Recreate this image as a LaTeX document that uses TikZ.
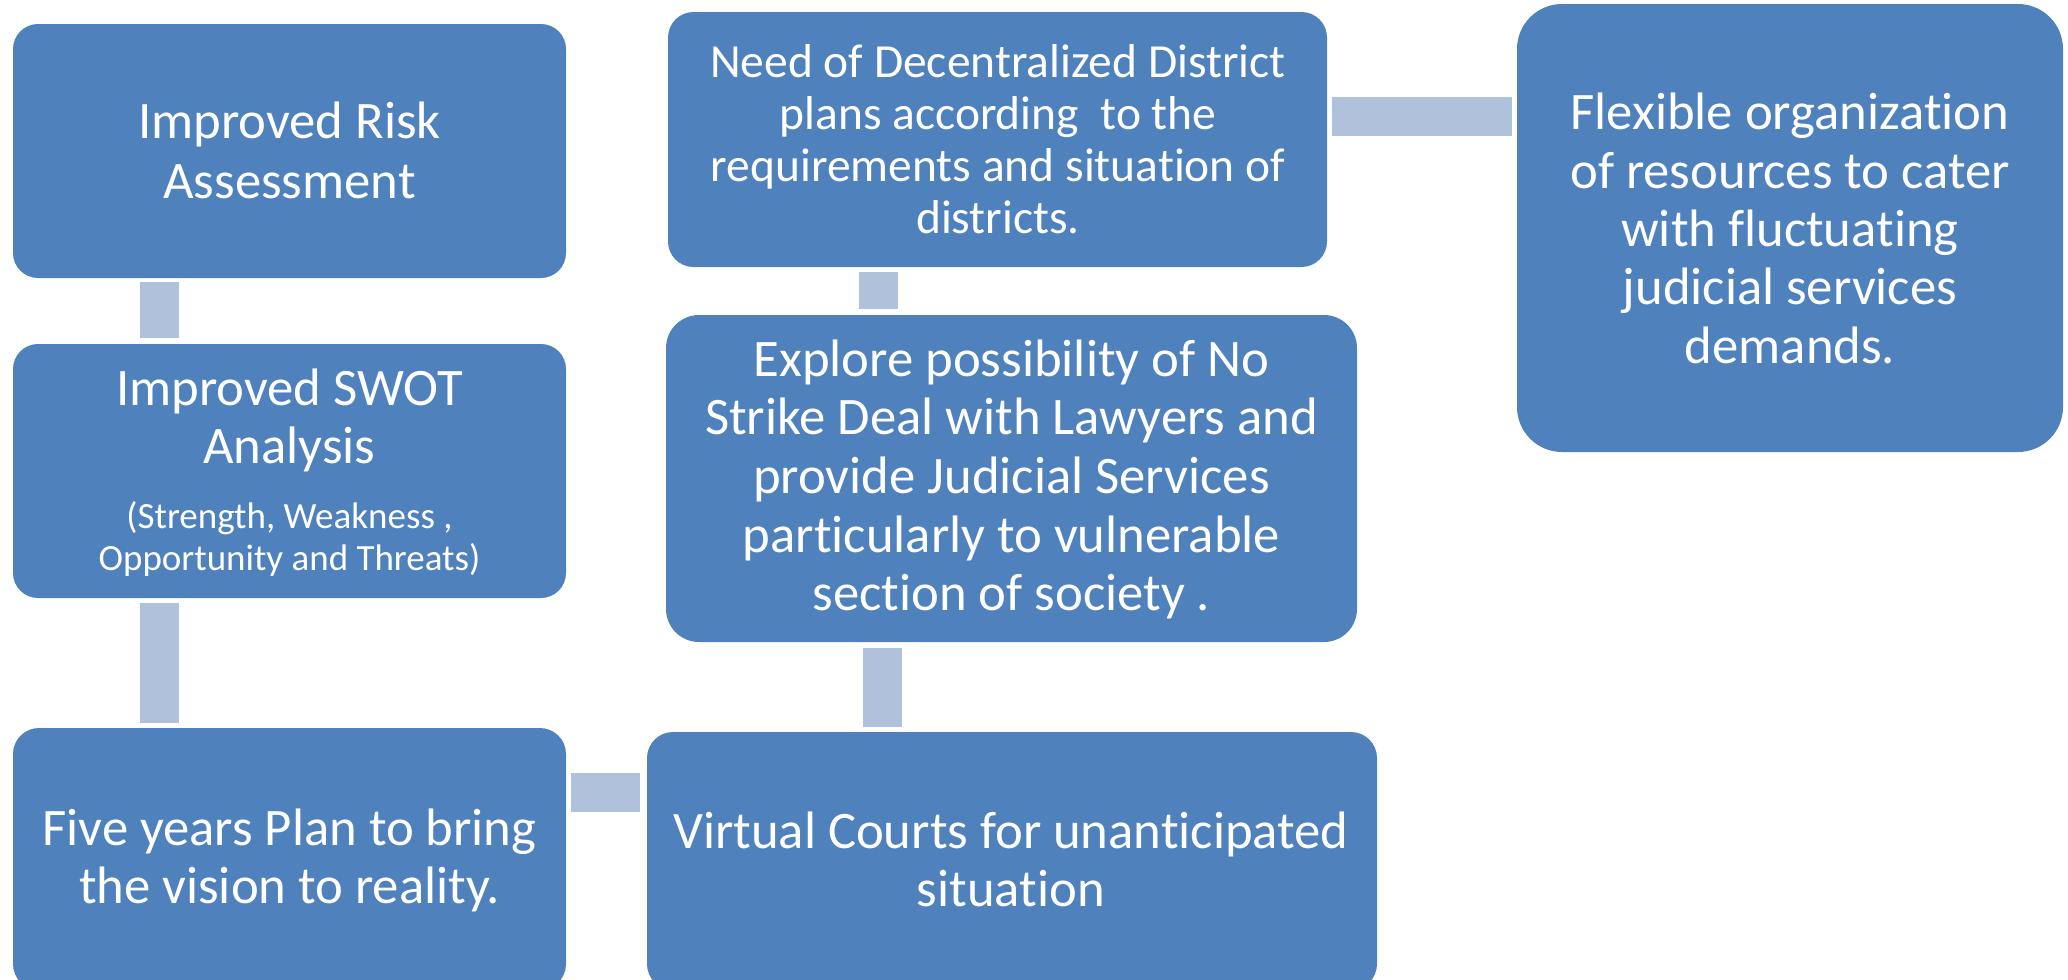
\documentclass[tikz,border=0pt]{standalone}
\usepackage{fontspec}
\setmainfont{Carlito}[Ligatures={NoCommon,NoContextual}]
\usetikzlibrary{calc}
\definecolor{boxblue}{RGB}{79,129,189}
\definecolor{connblue}{RGB}{176,193,220}
\begin{document}
\begin{tikzpicture}[x=0.5pt,y=-0.5pt,
  boxshape/.style={rectangle, fill=boxblue, draw=none, inner sep=0pt, outer sep=0pt},
  boxtext/.style={text=white, align=center, inner sep=0pt, outer sep=0pt},
  bigtext/.style={font=\fontsize{26.35pt}{#1}\selectfont},
  conn/.style={draw=connblue, line width=19.5pt}]
\useasboundingbox (0,0) rectangle (2068,980);
\clip (0,0) rectangle (2068,980);
% boxes
\node[boxshape, minimum width=276.5pt, minimum height=127pt, rounded corners=12.5pt] (b1) at (289.5,151) {};
\node[boxshape, minimum width=276.5pt, minimum height=127pt, rounded corners=12.5pt] (b2) at (289.5,471) {};
\node[boxshape, minimum width=276.5pt, minimum height=131pt, rounded corners=13pt] (b3) at (289.5,859) {};
\node[boxshape, minimum width=365pt, minimum height=129pt, rounded corners=13pt] (b4) at (1012,861) {};
\node[boxshape, minimum width=345.5pt, minimum height=163.5pt, rounded corners=16.5pt] (b5) at (1011.5,478.5) {};
\node[boxshape, minimum width=329.5pt, minimum height=127.5pt, rounded corners=12.75pt] (b6) at (997.5,139.5) {};
\node[boxshape, minimum width=273pt, minimum height=224pt, rounded corners=22.5pt] (b7) at (1790,228) {};
% texts
\node[boxtext, bigtext=30pt] (t1) at (289.5,150) {Improved Risk\\Assessment};
\node[boxtext, bigtext=29pt] (t2a) at (289.5,420) {Improved SWOT\\Analysis};
\node[boxtext, font=\fontsize{18.5pt}{21pt}\selectfont] (t2b) at (289.5,539) {(Strength, Weakness ,\\Opportunity and Threats)};
\node[boxtext, bigtext=29pt] (t3) at (289.5,860) {Five years Plan to bring\\the vision to reality.};
\node[boxtext, bigtext=29pt] (t4) at (1011,859) {Virtual Courts for unanticipated\\situation};
\node[boxtext, bigtext=29.35pt] (t5) at (1011.5,479.5) {Explore possibility of No\\Strike Deal with Lawyers and\\provide Judicial Services\\particularly to vulnerable\\section of society .};
\node[boxtext, font=\fontsize{23.75pt}{26pt}\selectfont] (t6) at (998,138.7) {Need of Decentralized District\\plans according\ \ to the\\requirements and situation of\\districts.};
\node[boxtext, bigtext=29.15pt] (t7) at (1790,228.5) {Flexible organization\\of resources to cater\\with fluctuating\\judicial services\\demands.};
% connectors
\draw[conn] ($(b1.south)+(-130.5,4)$) -- ($(b2.north)+(-130.5,-6)$);
\draw[conn] ($(b2.south)+(-130.5,5)$) -- ($(b3.north)+(-130.5,-5)$);
\draw[conn] ($(b3.east)+(5,-67)$) -- ($(b4.west)+(-7,-69)$);
\draw[conn] ($(b5.south)+(-129.5,6)$) -- ($(b4.north)+(-130,-5)$);
\draw[conn] ($(b6.south)+(-119.5,5)$) -- ($(b5.north)+(-133.5,-6)$);
\draw[conn] ($(b6.east)+(5,-23.5)$) -- ($(b7.west)+(-5,-112)$);
\end{tikzpicture}
\end{document}
